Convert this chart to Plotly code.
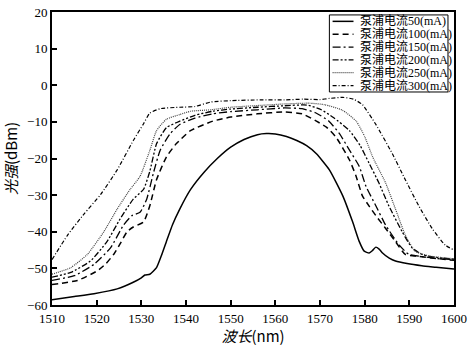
import plotly.graph_objects as go

# ---------------- data ----------------
names = ["泵浦电流50(mA)", "泵浦电流100(mA)", "泵浦电流150(mA)",
         "泵浦电流200(mA)", "泵浦电流250(mA)", "泵浦电流300(mA)"]

x50 = [1510, 1515, 1519.4, 1524.6, 1528.2, 1530, 1530.8, 1531.9, 1533.4, 1534.5,
       1535.6, 1537, 1538.6, 1541, 1544, 1547, 1550, 1553, 1556, 1558,
       1560, 1562.5, 1564.8, 1567, 1569.2, 1572.1, 1575.1, 1577.3, 1578.8, 1579.9,
       1581, 1581.7, 1582.5, 1583.3, 1584, 1585.5, 1586.9, 1589.5, 1592.8, 1596, 1600]
y50 = [-58.6, -57.7, -56.9, -55.6, -53.8, -52.6, -51.8, -51.6, -49.8, -46.5,
       -42.7, -38, -33.8, -28.5, -23.8, -20, -16.9, -14.8, -13.5, -13.2,
       -13.3, -14, -15.1, -16.5, -18.7, -23.1, -30.2, -37.3, -42.7, -45.3,
       -45.8, -45.2, -44.2, -44.8, -45.8, -47.2, -48, -48.7, -49.3, -49.7, -50.2]

x100 = [1510, 1515.7, 1520.1, 1522, 1523.8, 1525.3, 1526.8, 1528.2, 1530.5, 1531.9,
        1533.4, 1535.6, 1537.8, 1541, 1546, 1550, 1556, 1562, 1566, 1569.2,
        1571.5, 1573.6, 1576.6, 1578.1, 1579.5, 1581, 1582.5, 1584.7, 1586.9, 1589.1,
        1592.1, 1596, 1600]
y100 = [-54.4, -53.3, -50.7, -48.8, -46.2, -43.2, -40, -38.7, -37.3, -32.9,
        -25.8, -19.6, -16, -12.4, -9.8, -8.7, -7.8, -7.3, -7.8, -9.8,
        -11.5, -14.2, -20.4, -24.9, -30.2, -33, -35.6, -39.1, -42.7, -46.2,
        -46.7, -47.3, -47.8]

x150 = [1510, 1515, 1519.4, 1523.1, 1526, 1527.9, 1529.7, 1531.2, 1532.7, 1534.2,
        1536.4, 1538.6, 1542, 1546, 1550, 1556, 1562, 1566, 1569, 1572,
        1574.4, 1576.5, 1578.8, 1580.3, 1582.5, 1584.7, 1587.7, 1589.9, 1593, 1596,
        1600]
y150 = [-53.3, -52, -48.9, -44.4, -38.2, -35.6, -34.7, -31.1, -24, -17.8,
        -13.3, -10.7, -9, -7.8, -7.2, -6.7, -6.2, -6.4, -7.5, -9.8,
        -13.3, -17.5, -22.2, -27.6, -32.9, -38.2, -43.6, -46.2, -46.8, -47.3,
        -47.6]

x200 = [1510, 1514.2, 1518.6, 1522.3, 1525.3, 1528.2, 1530.5, 1531.9, 1533.4, 1535.6,
        1538.6, 1542, 1546, 1550, 1556, 1562, 1567, 1570, 1573, 1576.6,
        1579, 1581, 1583.2, 1585.4, 1588.4, 1590.6, 1593, 1596, 1600]
y200 = [-52.4, -51.1, -48, -42.7, -36.4, -31.1, -28.4, -23.5, -16, -11.6,
        -9.8, -8.2, -7.1, -6.5, -6, -5.6, -5.4, -6.5, -8.8, -12.4,
        -16.5, -21.3, -26.7, -32.9, -40, -44.4, -46.3, -47, -47.5]

x250 = [1510, 1514.2, 1517.9, 1521.6, 1524.6, 1527.5, 1529.7, 1531.9, 1533.4, 1535.6,
        1538.6, 1541, 1545.5, 1550, 1556.6, 1562, 1567.7, 1571, 1575, 1578.1,
        1580, 1581.8, 1584.7, 1586.9, 1589.1, 1591.3, 1594.3, 1597, 1600]
y250 = [-51.6, -49.8, -46.2, -40, -33.8, -28.4, -24.9, -17.8, -12.4, -9.3,
        -8, -7.1, -6.7, -6, -5.5, -5.1, -4.9, -5.3, -6.8, -9.8,
        -14, -19.6, -26.7, -33.8, -40.9, -45.3, -46.6, -47, -47.4]

x300 = [1510, 1513.5, 1517.2, 1520.9, 1524.6, 1528.2, 1530.5, 1531.9, 1534.2, 1538.6,
        1542, 1545.5, 1550, 1556.6, 1562, 1566.2, 1570, 1572.1, 1575.1, 1577.5,
        1579.5, 1582.5, 1586.2, 1589.1, 1592.1, 1595.1, 1598, 1600]
y300 = [-47.6, -40.9, -35.1, -29.8, -23.1, -15.1, -10.5, -7.6, -6.4, -6,
        -5.8, -4.6, -4.2, -4, -4, -3.8, -3.9, -3.6, -3.3, -3.8,
        -5.3, -10.7, -18.7, -25.8, -32.9, -39.1, -43.6, -45]

xs = [x50, x100, x150, x200, x250, x300]
ys = [y50, y100, y150, y200, y250, y300]

x_ticks = [1510, 1520, 1530, 1540, 1550, 1560, 1570, 1580, 1590, 1600]
y_ticks = [-60, -50, -40, -30, -20, -10, 0, 10, 20]

# ---------------- styles ----------------
dashes = ["solid", "6px,4px", "8px,3px,2px,3px", "6px,2px,2px,2px,2px,2px",
          "1px,1px", "4px,2px,1px,2px"]
colors = ["black", "black", "black", "black", "#444444", "black"]
widths = [1.5, 1.5, 1.3, 1.3, 1.2, 1.2]

fig = go.Figure()
for xv, yv, nm, d, c, w in zip(xs, ys, names, dashes, colors, widths):
    fig.add_trace(go.Scatter(x=xv, y=yv, mode="lines", name=nm,
                             line=dict(color=c, width=w, dash=d,
                                       shape="spline", smoothing=0.5),
                             showlegend=False))

serif = "Liberation Serif, Noto Sans CJK SC"
cjk = "Noto Sans CJK SC, Liberation Serif"

# ---------------- hand-built compact legend ----------------
lx0, lx1 = 0.690, 0.985
ly_top, ly_bot = 0.990, 0.727
shapes = [dict(type="rect", xref="paper", yref="paper",
               x0=lx0, x1=lx1, y0=ly_bot, y1=ly_top,
               line=dict(color="black", width=1), fillcolor="white", layer="above")]
annotations = []
n = len(names)
row_h = (ly_top - ly_bot) / n
for i, (nm, d, c, w) in enumerate(zip(names, dashes, colors, widths)):
    yc = ly_top - row_h * (i + 0.5)
    shapes.append(dict(type="line", xref="paper", yref="paper",
                       x0=lx0 + 0.008, x1=lx0 + 0.060, y0=yc, y1=yc,
                       line=dict(color=c, width=w, dash=d), layer="above"))
    annotations.append(dict(xref="paper", yref="paper", x=lx0 + 0.070, y=yc,
                            text=nm, showarrow=False, xanchor="left", yanchor="middle",
                            font=dict(family=serif, size=12, color="black")))

fig.update_layout(
    width=472, height=346,
    margin=dict(l=52, r=13, t=5, b=41),
    paper_bgcolor="white", plot_bgcolor="white",
    shapes=shapes, annotations=annotations,
    font=dict(family=serif, size=13, color="black"),
)
fig.update_xaxes(range=[1510, 1600], tickvals=x_ticks, ticks="inside", ticklen=5,
                 tickwidth=1.5, tickcolor="black", showline=True, linewidth=2,
                 linecolor="black", mirror=True, showgrid=False, zeroline=False,
                 ticklabeloverflow="allow",
                 tickfont=dict(family=serif, size=13),
                 title=dict(text="<i>波长</i>(nm)", font=dict(family=cjk, size=15),
                            standoff=0))
fig.update_yaxes(range=[-60, 20], tickvals=y_ticks, ticks="inside", ticklen=5,
                 tickwidth=1.5, tickcolor="black", showline=True, linewidth=2,
                 linecolor="black", mirror=True, showgrid=False, zeroline=False,
                 ticklabeloverflow="allow",
                 tickfont=dict(family=serif, size=13),
                 title=dict(text="<i>光强</i>(dBm)", font=dict(family=cjk, size=15),
                            standoff=6))

fig.write_html("out.html",
               config={"displayModeBar": False},
               post_script="document.body.style.margin='0';document.body.style.padding='0';")
